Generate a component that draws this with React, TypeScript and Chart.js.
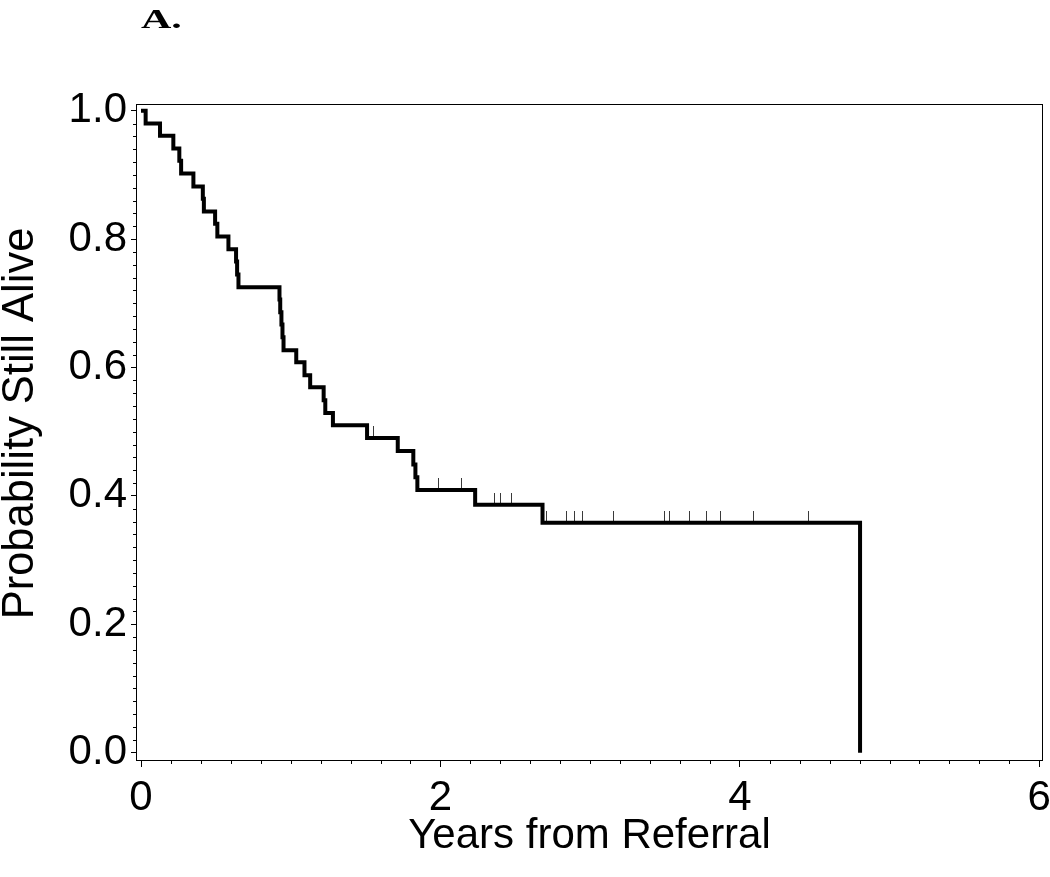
import React, { useEffect, useRef } from "react";
import { Chart, registerables } from "chart.js";

Chart.register(...registerables);

const panelLabel = "A.";
const xAxisTitle = "Years from Referral";
const yAxisTitle = "Probability Still Alive";

// Kaplan-Meier step points: time of each death (years) and survival after it
const deathYears = [
  0, 0.031, 0.127, 0.216, 0.256, 0.268, 0.35, 0.413, 0.42, 0.495, 0.51, 0.584,
  0.635, 0.642, 0.651, 0.925, 0.93, 0.938, 0.945, 0.952, 1.037, 1.092, 1.13,
  1.22, 1.231, 1.282, 1.51, 1.715, 1.819, 1.833, 1.846, 2.232, 2.682, 4.803,
];
const survivalProb = [
  1, 0.98, 0.961, 0.941, 0.922, 0.902, 0.882, 0.863, 0.843, 0.824, 0.804, 0.784,
  0.765, 0.745, 0.725, 0.706, 0.686, 0.667, 0.647, 0.627, 0.608, 0.588, 0.569,
  0.549, 0.529, 0.51, 0.49, 0.47, 0.449, 0.429, 0.409, 0.386, 0.358, 0,
];
// censored observations (years)
const censorYears = [
  1.554, 1.985, 2.138, 2.361, 2.401, 2.475, 2.707, 2.841, 2.898, 2.952, 3.153,
  3.494, 3.527, 3.661, 3.779, 3.868, 4.092, 4.46,
];

const xTickValues = [0, 2, 4, 6];
const xTickLabels = ["0", "2", "4", "6"];
const yTickValues = [0, 0.2, 0.4, 0.6, 0.8, 1.0];
const yTickLabels = ["0.0", "0.2", "0.4", "0.6", "0.8", "1.0"];

const xMinorTicks: number[] = [];
for (let i = 0; i <= 30; i++) if (i % 10 !== 0) xMinorTicks.push(i * 0.2);
const yMinorTicks: number[] = [];
for (let i = 0; i <= 50; i++) if (i % 10 !== 0) yMinorTicks.push(i * 0.02);

function survivalAt(t: number): number {
  let s = survivalProb[0];
  for (let i = 0; i < deathYears.length; i++) {
    if (deathYears[i] <= t) s = survivalProb[i];
  }
  return s;
}

const FONT = '"Liberation Sans", Arial, Helvetica, sans-serif';

const framePlugin = {
  id: "frameAndMinorTicks",
  afterDraw(chart: any) {
    const { ctx, chartArea: a, scales } = chart;
    ctx.save();
    ctx.strokeStyle = "#000";
    ctx.lineWidth = 1;
    const l = Math.round(a.left) + 0.5;
    const t = Math.round(a.top) + 0.5;
    const r = Math.round(a.right) - 0.5;
    const b = Math.round(a.bottom) - 0.5;
    ctx.strokeRect(l, t, r - l, b - t);
    ctx.beginPath();
    for (const v of xMinorTicks) {
      const px = Math.round(scales.x.getPixelForValue(v)) + 0.5;
      ctx.moveTo(px, b);
      ctx.lineTo(px, b + 3.5);
    }
    for (const v of yMinorTicks) {
      const py = Math.round(scales.y.getPixelForValue(v)) + 0.5;
      ctx.moveTo(l, py);
      ctx.lineTo(l - 3.5, py);
    }
    ctx.stroke();

    // y-axis title
    ctx.translate(33, 423.5);
    ctx.rotate(-Math.PI / 2);
    ctx.fillStyle = "#000";
    ctx.font = `43.5px ${FONT}`;
    ctx.textAlign = "center";
    ctx.textBaseline = "alphabetic";
    ctx.fillText(yAxisTitle, 0, 0);
    ctx.restore();
  },
};

export default function App() {
  const canvasRef = useRef<HTMLCanvasElement | null>(null);

  useEffect(() => {
    document.body.style.margin = "0";
    const canvas = canvasRef.current;
    if (!canvas) return;

    const mark = document.createElement("canvas");
    mark.width = 1;
    mark.height = 24;
    const mctx = mark.getContext("2d");
    if (mctx) {
      mctx.fillStyle = "#3a3a3a";
      mctx.fillRect(0, 0, 1, 12);
    }

    const chart = new Chart(canvas, {
      type: "scatter",
      data: {
        datasets: [
          {
            label: "KM",
            data: deathYears.map((x, i) => ({ x, y: survivalProb[i] })),
            showLine: true,
            stepped: true,
            borderColor: "#000",
            backgroundColor: "#000",
            borderWidth: 4,
            pointRadius: 0,
            fill: false,
            borderJoinStyle: "miter",
            borderCapStyle: "butt",
          } as any,
          {
            label: "Censored",
            data: censorYears.map((x) => ({ x, y: survivalAt(x) })),
            showLine: false,
            pointStyle: mark as any,
            pointRadius: 6,
            borderWidth: 0,
          } as any,
        ],
      },
      options: {
        animation: false,
        responsive: false,
        devicePixelRatio: 1,
        layout: { padding: { top: 104, right: 7, bottom: 0, left: 0 } },
        plugins: {
          legend: { display: false },
          tooltip: { enabled: false },
          title: { display: false },
        },
        scales: {
          x: {
            type: "linear",
            min: -0.0334,
            max: 6.025,
            afterBuildTicks: (s: any) => {
              s.ticks = xTickValues.map((v) => ({ value: v }));
            },
            afterFit: (s: any) => {
              s.height = 116;
              s.paddingLeft = 0;
              s.paddingRight = 0;
            },
            ticks: {
              autoSkip: false,
              maxRotation: 0,
              minRotation: 0,
              padding: 10,
              color: "#000",
              font: { family: FONT, size: 42, lineHeight: 1 },
              callback: (v: any) => xTickLabels[xTickValues.indexOf(Number(v))] ?? "",
            },
            grid: {
              display: true,
              drawOnChartArea: false,
              drawTicks: true,
              tickLength: 6,
              color: "#000",
              lineWidth: 1,
            },
            border: { display: false },
            title: {
              display: true,
              text: xAxisTitle,
              color: "#000",
              font: { family: FONT, size: 42, lineHeight: 1 },
              padding: { top: 0, bottom: 20 },
            },
          },
          y: {
            type: "linear",
            min: -0.013,
            max: 1.0104,
            afterBuildTicks: (s: any) => {
              s.ticks = yTickValues.map((v) => ({ value: v }));
            },
            afterFit: (s: any) => {
              s.width = 136;
              s.paddingTop = 0;
              s.paddingBottom = 0;
            },
            ticks: {
              autoSkip: false,
              padding: 4,
              color: "#000",
              font: { family: FONT, size: 42, lineHeight: 1 },
              callback: (v: any) => {
                const idx = yTickValues.findIndex((t) => Math.abs(t - Number(v)) < 1e-6);
                return idx >= 0 ? yTickLabels[idx] : "";
              },
            },
            grid: {
              display: true,
              drawOnChartArea: false,
              drawTicks: true,
              tickLength: 5,
              color: "#000",
              lineWidth: 1,
            },
            border: { display: false },
            title: { display: false },
          },
        },
      },
      plugins: [framePlugin],
    });

    return () => {
      chart.destroy();
    };
  }, []);

  return (
    <div style={{ position: "relative", width: 1050, height: 877, overflow: "hidden", background: "#fff" }}>
      <canvas ref={canvasRef} width={1050} height={877} style={{ display: "block" }} />
      <div
        style={{
          position: "absolute",
          left: 141,
          top: 5,
          fontFamily: '"Liberation Serif", "Times New Roman", serif',
          fontWeight: "bold",
          fontSize: 28,
          lineHeight: "28px",
          color: "#000",
          transform: "scaleX(1.5)",
          transformOrigin: "left top",
        }}
      >
        {panelLabel}
      </div>
    </div>
  );
}
